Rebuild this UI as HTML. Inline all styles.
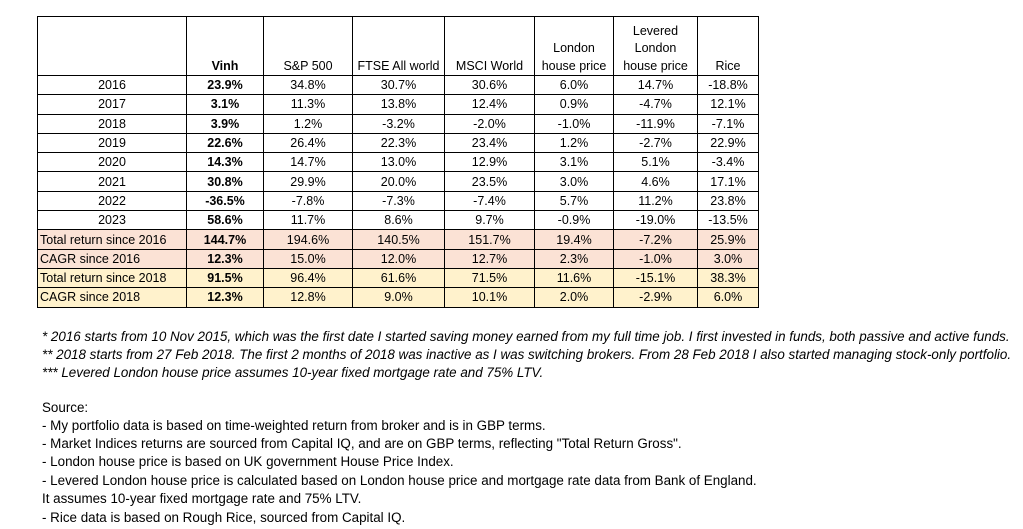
<!DOCTYPE html>
<html><head><meta charset="utf-8"><style>
body{margin:0;background:#fff;width:1023px;height:529px;overflow:hidden;position:relative;font-family:"Liberation Sans",sans-serif;color:#000}
table{position:absolute;left:37px;top:16px;border-collapse:collapse;font-size:12.5px;table-layout:fixed;width:721px}
td{border:1px solid #000;padding:0;height:18.3px;text-align:center;line-height:18px;white-space:nowrap;overflow:hidden}
tr.h td{height:58px;vertical-align:bottom;line-height:17.5px}
td.l{text-align:left;padding-left:2px}
tr.p td{background:#fbe2d5}
tr.y td{background:#fff2cc}
.t{position:absolute;left:42px;font-size:13.4px;white-space:nowrap;line-height:18px}
.i{font-style:italic}
</style></head><body>
<table>
<colgroup><col style="width:149px"><col style="width:77px"><col style="width:89px"><col style="width:92px"><col style="width:90px"><col style="width:79px"><col style="width:84px"><col style="width:61px"></colgroup>
<tr class="h"><td></td><td><b>Vinh</b></td><td>S&amp;P 500</td><td>FTSE All world</td><td>MSCI World</td><td>London<br>house price</td><td>Levered<br>London<br>house price</td><td>Rice</td></tr>
<tr><td>2016</td><td><b>23.9%</b></td><td>34.8%</td><td>30.7%</td><td>30.6%</td><td>6.0%</td><td>14.7%</td><td>-18.8%</td></tr>
<tr><td>2017</td><td><b>3.1%</b></td><td>11.3%</td><td>13.8%</td><td>12.4%</td><td>0.9%</td><td>-4.7%</td><td>12.1%</td></tr>
<tr><td>2018</td><td><b>3.9%</b></td><td>1.2%</td><td>-3.2%</td><td>-2.0%</td><td>-1.0%</td><td>-11.9%</td><td>-7.1%</td></tr>
<tr><td>2019</td><td><b>22.6%</b></td><td>26.4%</td><td>22.3%</td><td>23.4%</td><td>1.2%</td><td>-2.7%</td><td>22.9%</td></tr>
<tr><td>2020</td><td><b>14.3%</b></td><td>14.7%</td><td>13.0%</td><td>12.9%</td><td>3.1%</td><td>5.1%</td><td>-3.4%</td></tr>
<tr><td>2021</td><td><b>30.8%</b></td><td>29.9%</td><td>20.0%</td><td>23.5%</td><td>3.0%</td><td>4.6%</td><td>17.1%</td></tr>
<tr><td>2022</td><td><b>-36.5%</b></td><td>-7.8%</td><td>-7.3%</td><td>-7.4%</td><td>5.7%</td><td>11.2%</td><td>23.8%</td></tr>
<tr><td>2023</td><td><b>58.6%</b></td><td>11.7%</td><td>8.6%</td><td>9.7%</td><td>-0.9%</td><td>-19.0%</td><td>-13.5%</td></tr>
<tr class="p"><td class="l">Total return since 2016</td><td><b>144.7%</b></td><td>194.6%</td><td>140.5%</td><td>151.7%</td><td>19.4%</td><td>-7.2%</td><td>25.9%</td></tr>
<tr class="p"><td class="l">CAGR since 2016</td><td><b>12.3%</b></td><td>15.0%</td><td>12.0%</td><td>12.7%</td><td>2.3%</td><td>-1.0%</td><td>3.0%</td></tr>
<tr class="y"><td class="l">Total return since 2018</td><td><b>91.5%</b></td><td>96.4%</td><td>61.6%</td><td>71.5%</td><td>11.6%</td><td>-15.1%</td><td>38.3%</td></tr>
<tr class="y"><td class="l">CAGR since 2018</td><td><b>12.3%</b></td><td>12.8%</td><td>9.0%</td><td>10.1%</td><td>2.0%</td><td>-2.9%</td><td>6.0%</td></tr>
</table>
<div class="t i" style="top:328px">* 2016 starts from 10 Nov 2015, which was the first date I started saving money earned from my full time job. I first invested in funds, both passive and active funds.</div>
<div class="t i" style="top:346px">** 2018 starts from 27 Feb 2018. The first 2 months of 2018 was inactive as I was switching brokers. From 28 Feb 2018 I also started managing stock-only portfolio.</div>
<div class="t i" style="top:364px">*** Levered London house price assumes 10-year fixed mortgage rate and 75% LTV.</div>
<div class="t" style="top:399px">Source:</div>
<div class="t" style="top:417px">- My portfolio data is based on time-weighted return from broker and is in GBP terms.</div>
<div class="t" style="top:435px">- Market Indices returns are sourced from Capital IQ, and are on GBP terms, reflecting "Total Return Gross".</div>
<div class="t" style="top:453px">- London house price is based on UK government House Price Index.</div>
<div class="t" style="top:472px">- Levered London house price is calculated based on London house price and mortgage rate data from Bank of England.</div>
<div class="t" style="top:490px">It assumes 10-year fixed mortgage rate and 75% LTV.</div>
<div class="t" style="top:509px">- Rice data is based on Rough Rice, sourced from Capital IQ.</div>
</body></html>
